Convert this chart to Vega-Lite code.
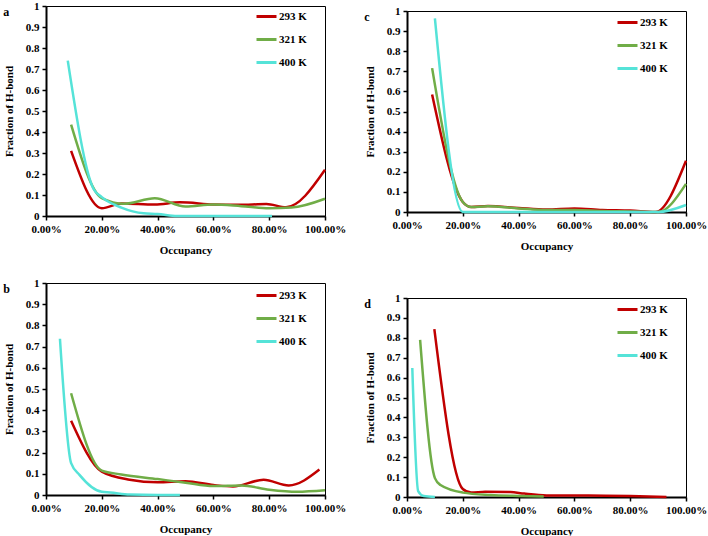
{
  "$schema": "https://vega.github.io/schema/vega-lite/v6.json",
  "padding": {"left": 2, "top": -1, "right": 0, "bottom": 0},
  "background": "white",
  "data": {"name": "hb"},
  "datasets": {
    "hb": [
      {"panel": "a", "temp": "293 K", "occ": 0.09, "frac": 0.31},
      {"panel": "a", "temp": "293 K", "occ": 0.2, "frac": 0.037},
      {"panel": "a", "temp": "293 K", "occ": 0.27, "frac": 0.06},
      {"panel": "a", "temp": "293 K", "occ": 0.39, "frac": 0.055},
      {"panel": "a", "temp": "293 K", "occ": 0.48, "frac": 0.065},
      {"panel": "a", "temp": "293 K", "occ": 0.6, "frac": 0.055},
      {"panel": "a", "temp": "293 K", "occ": 0.69, "frac": 0.053},
      {"panel": "a", "temp": "293 K", "occ": 0.79, "frac": 0.057},
      {"panel": "a", "temp": "293 K", "occ": 0.86, "frac": 0.042},
      {"panel": "a", "temp": "293 K", "occ": 1.0, "frac": 0.22},
      {"panel": "a", "temp": "321 K", "occ": 0.09, "frac": 0.435},
      {"panel": "a", "temp": "321 K", "occ": 0.2, "frac": 0.085},
      {"panel": "a", "temp": "321 K", "occ": 0.28, "frac": 0.058},
      {"panel": "a", "temp": "321 K", "occ": 0.39, "frac": 0.085},
      {"panel": "a", "temp": "321 K", "occ": 0.5, "frac": 0.045},
      {"panel": "a", "temp": "321 K", "occ": 0.6, "frac": 0.055},
      {"panel": "a", "temp": "321 K", "occ": 0.7, "frac": 0.047},
      {"panel": "a", "temp": "321 K", "occ": 0.8, "frac": 0.037},
      {"panel": "a", "temp": "321 K", "occ": 0.88, "frac": 0.04},
      {"panel": "a", "temp": "321 K", "occ": 1.0, "frac": 0.082},
      {"panel": "a", "temp": "400 K", "occ": 0.078, "frac": 0.74},
      {"panel": "a", "temp": "400 K", "occ": 0.17, "frac": 0.13},
      {"panel": "a", "temp": "400 K", "occ": 0.2, "frac": 0.09},
      {"panel": "a", "temp": "400 K", "occ": 0.27, "frac": 0.04},
      {"panel": "a", "temp": "400 K", "occ": 0.35, "frac": 0.013},
      {"panel": "a", "temp": "400 K", "occ": 0.4, "frac": 0.01},
      {"panel": "a", "temp": "400 K", "occ": 0.47, "frac": 0.0},
      {"panel": "a", "temp": "400 K", "occ": 0.6, "frac": 0.0},
      {"panel": "a", "temp": "400 K", "occ": 0.81, "frac": 0.0},

      {"panel": "b", "temp": "293 K", "occ": 0.09, "frac": 0.35},
      {"panel": "b", "temp": "293 K", "occ": 0.2, "frac": 0.11},
      {"panel": "b", "temp": "293 K", "occ": 0.3, "frac": 0.072},
      {"panel": "b", "temp": "293 K", "occ": 0.4, "frac": 0.06},
      {"panel": "b", "temp": "293 K", "occ": 0.5, "frac": 0.065},
      {"panel": "b", "temp": "293 K", "occ": 0.6, "frac": 0.047},
      {"panel": "b", "temp": "293 K", "occ": 0.67, "frac": 0.04},
      {"panel": "b", "temp": "293 K", "occ": 0.78, "frac": 0.072},
      {"panel": "b", "temp": "293 K", "occ": 0.87, "frac": 0.045},
      {"panel": "b", "temp": "293 K", "occ": 0.98, "frac": 0.12},
      {"panel": "b", "temp": "321 K", "occ": 0.09, "frac": 0.48},
      {"panel": "b", "temp": "321 K", "occ": 0.2, "frac": 0.115},
      {"panel": "b", "temp": "321 K", "occ": 0.27, "frac": 0.097},
      {"panel": "b", "temp": "321 K", "occ": 0.4, "frac": 0.075},
      {"panel": "b", "temp": "321 K", "occ": 0.5, "frac": 0.058},
      {"panel": "b", "temp": "321 K", "occ": 0.6, "frac": 0.042},
      {"panel": "b", "temp": "321 K", "occ": 0.7, "frac": 0.045},
      {"panel": "b", "temp": "321 K", "occ": 0.8, "frac": 0.025},
      {"panel": "b", "temp": "321 K", "occ": 0.9, "frac": 0.015},
      {"panel": "b", "temp": "321 K", "occ": 1.0, "frac": 0.022},
      {"panel": "b", "temp": "400 K", "occ": 0.05, "frac": 0.737},
      {"panel": "b", "temp": "400 K", "occ": 0.09, "frac": 0.15},
      {"panel": "b", "temp": "400 K", "occ": 0.12, "frac": 0.095},
      {"panel": "b", "temp": "400 K", "occ": 0.2, "frac": 0.015},
      {"panel": "b", "temp": "400 K", "occ": 0.23, "frac": 0.012},
      {"panel": "b", "temp": "400 K", "occ": 0.3, "frac": 0.002},
      {"panel": "b", "temp": "400 K", "occ": 0.4, "frac": 0.0},
      {"panel": "b", "temp": "400 K", "occ": 0.48, "frac": 0.0},

      {"panel": "c", "temp": "293 K", "occ": 0.09, "frac": 0.585},
      {"panel": "c", "temp": "293 K", "occ": 0.2, "frac": 0.05},
      {"panel": "c", "temp": "293 K", "occ": 0.23, "frac": 0.025},
      {"panel": "c", "temp": "293 K", "occ": 0.29, "frac": 0.03},
      {"panel": "c", "temp": "293 K", "occ": 0.4, "frac": 0.02},
      {"panel": "c", "temp": "293 K", "occ": 0.5, "frac": 0.012},
      {"panel": "c", "temp": "293 K", "occ": 0.6, "frac": 0.018},
      {"panel": "c", "temp": "293 K", "occ": 0.7, "frac": 0.01},
      {"panel": "c", "temp": "293 K", "occ": 0.8, "frac": 0.007},
      {"panel": "c", "temp": "293 K", "occ": 0.89, "frac": 0.0},
      {"panel": "c", "temp": "293 K", "occ": 1.0, "frac": 0.255},
      {"panel": "c", "temp": "321 K", "occ": 0.09, "frac": 0.716},
      {"panel": "c", "temp": "321 K", "occ": 0.2, "frac": 0.05},
      {"panel": "c", "temp": "321 K", "occ": 0.23, "frac": 0.025},
      {"panel": "c", "temp": "321 K", "occ": 0.29, "frac": 0.028},
      {"panel": "c", "temp": "321 K", "occ": 0.4, "frac": 0.018},
      {"panel": "c", "temp": "321 K", "occ": 0.5, "frac": 0.01},
      {"panel": "c", "temp": "321 K", "occ": 0.6, "frac": 0.01},
      {"panel": "c", "temp": "321 K", "occ": 0.7, "frac": 0.005},
      {"panel": "c", "temp": "321 K", "occ": 0.8, "frac": 0.003},
      {"panel": "c", "temp": "321 K", "occ": 0.9, "frac": 0.0},
      {"panel": "c", "temp": "321 K", "occ": 1.0, "frac": 0.14},
      {"panel": "c", "temp": "400 K", "occ": 0.1, "frac": 0.963},
      {"panel": "c", "temp": "400 K", "occ": 0.2, "frac": 0.0},
      {"panel": "c", "temp": "400 K", "occ": 0.3, "frac": 0.0},
      {"panel": "c", "temp": "400 K", "occ": 0.5, "frac": 0.0},
      {"panel": "c", "temp": "400 K", "occ": 0.7, "frac": 0.0},
      {"panel": "c", "temp": "400 K", "occ": 0.9, "frac": 0.0},
      {"panel": "c", "temp": "400 K", "occ": 1.0, "frac": 0.035},

      {"panel": "d", "temp": "293 K", "occ": 0.098, "frac": 0.844},
      {"panel": "d", "temp": "293 K", "occ": 0.2, "frac": 0.04},
      {"panel": "d", "temp": "293 K", "occ": 0.23, "frac": 0.022},
      {"panel": "d", "temp": "293 K", "occ": 0.28, "frac": 0.027},
      {"panel": "d", "temp": "293 K", "occ": 0.37, "frac": 0.025},
      {"panel": "d", "temp": "293 K", "occ": 0.42, "frac": 0.017},
      {"panel": "d", "temp": "293 K", "occ": 0.5, "frac": 0.008},
      {"panel": "d", "temp": "293 K", "occ": 0.6, "frac": 0.007},
      {"panel": "d", "temp": "293 K", "occ": 0.65, "frac": 0.008},
      {"panel": "d", "temp": "293 K", "occ": 0.8, "frac": 0.005},
      {"panel": "d", "temp": "293 K", "occ": 0.93, "frac": 0.0},
      {"panel": "d", "temp": "321 K", "occ": 0.047, "frac": 0.79},
      {"panel": "d", "temp": "321 K", "occ": 0.1, "frac": 0.095},
      {"panel": "d", "temp": "321 K", "occ": 0.12, "frac": 0.06},
      {"panel": "d", "temp": "321 K", "occ": 0.2, "frac": 0.022},
      {"panel": "d", "temp": "321 K", "occ": 0.3, "frac": 0.01},
      {"panel": "d", "temp": "321 K", "occ": 0.4, "frac": 0.005},
      {"panel": "d", "temp": "321 K", "occ": 0.49, "frac": 0.002},
      {"panel": "d", "temp": "400 K", "occ": 0.019, "frac": 0.648},
      {"panel": "d", "temp": "400 K", "occ": 0.04, "frac": 0.03},
      {"panel": "d", "temp": "400 K", "occ": 0.06, "frac": 0.005},
      {"panel": "d", "temp": "400 K", "occ": 0.1, "frac": 0.0}
    ]
  },
  "config": {
    "font": "Liberation Serif",
    "view": {"stroke": "black", "strokeWidth": 1},
    "axis": {
      "labelFont": "Liberation Serif", "labelFontWeight": "bold", "labelFontSize": 11, "labelColor": "black",
      "titleFont": "Liberation Serif", "titleFontWeight": "bold", "titleFontSize": 11, "titleColor": "black",
      "grid": false, "domainColor": "black", "domainWidth": 2, "tickColor": "black", "tickWidth": 1.5, "tickSize": 4,
      "labelFlush": false, "labelOverlap": false
    },
    "axisX": {"labelPadding": 3, "titlePadding": 10},
    "axisY": {"labelPadding": 3, "titlePadding": 11},
    "legend": {
      "orient": "none", "legendX": 209, "legendY": -1,
      "title": null, "labelFont": "Liberation Serif", "labelFontWeight": "bold", "labelFontSize": 11, "labelColor": "black",
      "symbolType": "stroke", "symbolSize": 400, "symbolStrokeWidth": 3, "rowPadding": 5, "labelOffset": 1
    },
    "title": {"font": "Liberation Serif", "fontWeight": "bold", "fontSize": 12, "color": "black", "anchor": "start", "frame": "bounds", "offset": -19}
  },
  "spacing": 16,
  "resolve": {"legend": {"color": "independent"}},
  "hconcat": [
    {
      "spacing": 20,
      "resolve": {"legend": {"color": "independent"}},
      "vconcat": [
        {
          "title": "a", "width": 279, "height": 210,
          "transform": [{"filter": "datum.panel == 'a'"}],
          "mark": {"type": "line", "interpolate": "monotone", "strokeWidth": 2.5},
          "encoding": {
            "x": {"field": "occ", "type": "quantitative", "scale": {"domain": [0, 1]}, "axis": {"format": ".2%", "values": [0, 0.2, 0.4, 0.6, 0.8, 1], "title": "Occupancy"}},
            "y": {"field": "frac", "type": "quantitative", "scale": {"domain": [0, 1]}, "axis": {"format": "~g", "values": [0, 0.1, 0.2, 0.3, 0.4, 0.5, 0.6, 0.7, 0.8, 0.9, 1], "title": "Fraction of H-bond"}},
            "color": {"field": "temp", "type": "nominal", "scale": {"domain": ["293 K", "321 K", "400 K"], "range": ["#C00000", "#70AD47", "#55E3D8"]}}
          }
        },
        {
          "title": "b", "width": 279, "height": 212,
          "transform": [{"filter": "datum.panel == 'b'"}],
          "mark": {"type": "line", "interpolate": "monotone", "strokeWidth": 2.5},
          "encoding": {
            "x": {"field": "occ", "type": "quantitative", "scale": {"domain": [0, 1]}, "axis": {"format": ".2%", "values": [0, 0.2, 0.4, 0.6, 0.8, 1], "title": "Occupancy"}},
            "y": {"field": "frac", "type": "quantitative", "scale": {"domain": [0, 1]}, "axis": {"format": "~g", "values": [0, 0.1, 0.2, 0.3, 0.4, 0.5, 0.6, 0.7, 0.8, 0.9, 1], "title": "Fraction of H-bond"}},
            "color": {"field": "temp", "type": "nominal", "scale": {"domain": ["293 K", "321 K", "400 K"], "range": ["#C00000", "#70AD47", "#55E3D8"]}, "legend": {"legendY": 1}}
          }
        }
      ]
    },
    {
      "spacing": 39,
      "resolve": {"legend": {"color": "independent"}},
      "vconcat": [
        {
          "spacing": -6,
          "resolve": {"legend": {"color": "independent"}},
          "vconcat": [
            {
              "width": 279, "height": 1,
              "data": {"values": [{"v": 0}]},
              "mark": {"type": "point", "opacity": 0},
              "view": {"stroke": null}
            },
            {
              "title": "c", "width": 279, "height": 201,
              "transform": [{"filter": "datum.panel == 'c'"}],
              "mark": {"type": "line", "interpolate": "monotone", "strokeWidth": 2.5},
              "encoding": {
                "x": {"field": "occ", "type": "quantitative", "scale": {"domain": [0, 1]}, "axis": {"format": ".2%", "values": [0, 0.2, 0.4, 0.6, 0.8, 1], "title": "Occupancy"}},
                "y": {"field": "frac", "type": "quantitative", "scale": {"domain": [0, 1]}, "axis": {"format": "~g", "values": [0, 0.1, 0.2, 0.3, 0.4, 0.5, 0.6, 0.7, 0.8, 0.9, 1], "title": "Fraction of H-bond"}},
                "color": {"field": "temp", "type": "nominal", "scale": {"domain": ["293 K", "321 K", "400 K"], "range": ["#C00000", "#70AD47", "#55E3D8"]}, "legend": {"legendY": 0}}
              }
            }
          ]
        },
        {
          "title": "d", "width": 279, "height": 199,
          "transform": [{"filter": "datum.panel == 'd'"}],
          "mark": {"type": "line", "interpolate": "monotone", "strokeWidth": 2.5},
          "encoding": {
            "x": {"field": "occ", "type": "quantitative", "scale": {"domain": [0, 1]}, "axis": {"format": ".2%", "values": [0, 0.2, 0.4, 0.6, 0.8, 1], "title": "Occupancy"}},
            "y": {"field": "frac", "type": "quantitative", "scale": {"domain": [0, 1]}, "axis": {"format": "~g", "values": [0, 0.1, 0.2, 0.3, 0.4, 0.5, 0.6, 0.7, 0.8, 0.9, 1], "title": "Fraction of H-bond"}},
            "color": {"field": "temp", "type": "nominal", "scale": {"domain": ["293 K", "321 K", "400 K"], "range": ["#C00000", "#70AD47", "#55E3D8"]}, "legend": {"legendY": 0}}
          }
        }
      ]
    }
  ]
}
